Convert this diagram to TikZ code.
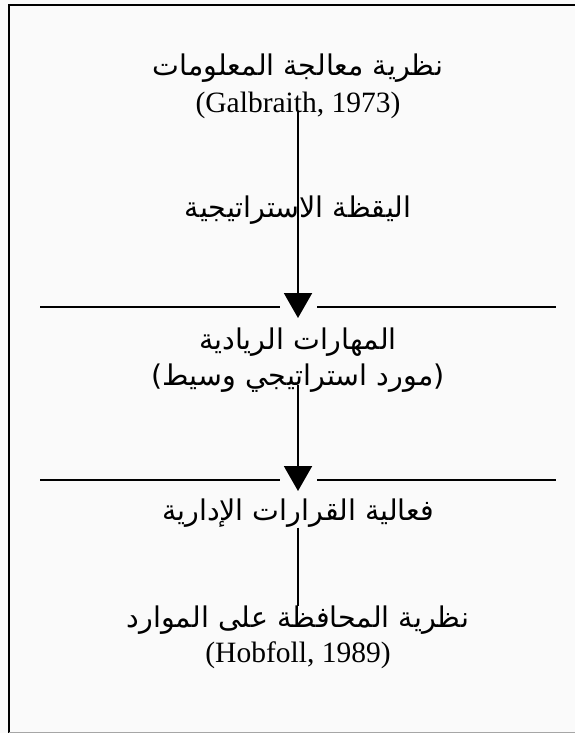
\documentclass[tikz,border=0pt]{standalone}
\usepackage{fontspec}
\setmainfont{Liberation Serif}
\newfontfamily\arabicfont[Script=Arabic]{DejaVu Sans}
\newfontfamily\plainsans{DejaVu Sans}
\TeXXeTstate=1
\usetikzlibrary{arrows.meta}
\newcommand{\artext}[1]{{\arabicfont\beginR #1\endR}}

\begin{document}
\begin{tikzpicture}[x=1pt,y=-1pt,
	lbl/.style={inner sep=0pt,font=\fontsize{28.5}{32}\selectfont},
	cite/.style={inner sep=0pt,font=\fontsize{29.5}{33}\selectfont},
	link/.style={line width=2pt},
	flow/.style={line width=2pt,-{Triangle[length=25pt,width=28pt]}},
	bar/.style={line width=2pt}]
			%%%%% START %%%%%
			
			\fill[black!2] (0,0) rectangle (575,733);
			\useasboundingbox (0,0) rectangle (575,733);
			\draw[line width=2.5pt] (9,734) -- (9,5) -- (580,5);
			\draw[black!35] (9,732.5) -- (575,732.5);
			
			\node[lbl] (theoryA) at (298,68) {\artext{نظرية معالجة المعلومات}};
			\node[cite] (gal) at (298,105) {(Galbraith, 1973)};
			
			\coordinate (tipA) at (298,318);
			\draw[flow] (gal.base) -- (tipA);
			\node[lbl] (alert) at (298,210) {\artext{اليقظة الاستراتيجية}};
			
			\draw[bar] (40,307) -- (280,307);
			\draw[bar] (317,307) -- (556,307);
			
			\node[lbl] (skills) at (298,342) {\artext{المهارات الريادية}};
			\node[lbl] (skillsnote) at (298,378) {{\plainsans(}\artext{مورد استراتيجي وسيط}{\plainsans)}};
			
			\coordinate (tipB) at (298,491);
			\draw[flow] (skillsnote.base) -- (tipB);
			
			\draw[bar] (40,480) -- (280,480);
			\draw[bar] (317,480) -- (556,480);
			
			\node[lbl] (decision) at (298,513) {\artext{فعالية القرارات الإدارية}};
			\node[lbl] (theoryB) at (298,620) {\artext{نظرية المحافظة على الموارد}};
			\node[cite] (hob) at (298,655) {(Hobfoll, 1989)};
			
			\draw[link] (decision.south) -- (theoryB.north);
			
			%%%%% END %%%%%
\end{tikzpicture}
\end{document}
